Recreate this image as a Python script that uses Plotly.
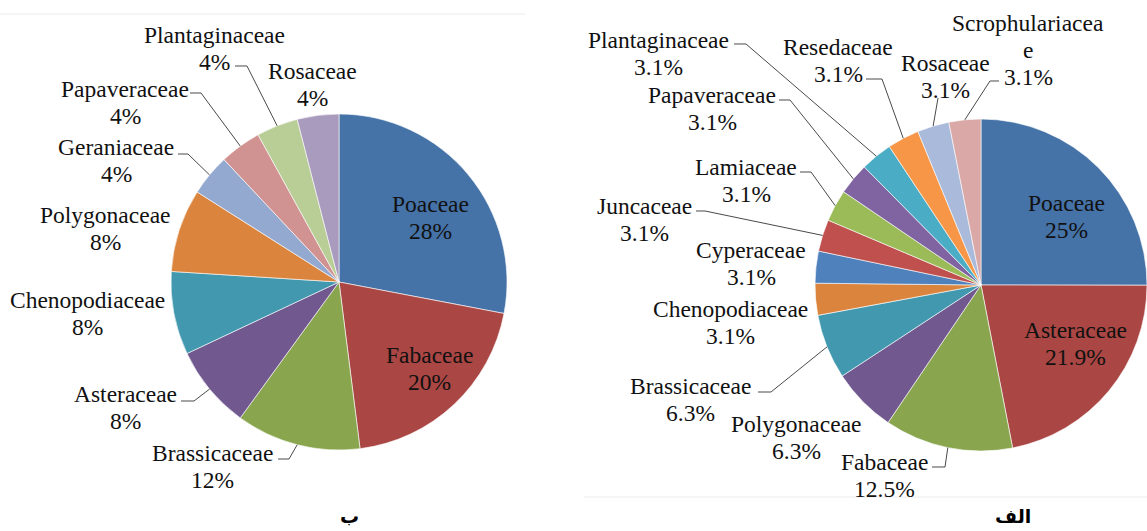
import math
import plotly.graph_objects as go

W, H = 1147, 531

# ---------------- data ----------------
# panel "ب" (left)
left_families = ["Poaceae", "Fabaceae", "Brassicaceae", "Asteraceae", "Chenopodiaceae",
                 "Polygonaceae", "Geraniaceae", "Papaveraceae", "Plantaginaceae", "Rosaceae"]
left_percent = [28, 20, 12, 8, 8, 8, 4, 4, 4, 4]

# panel "الف" (right)
right_families = ["Poaceae", "Asteraceae", "Fabaceae", "Polygonaceae", "Brassicaceae",
                  "Chenopodiaceae", "Cyperaceae", "Juncaceae", "Lamiaceae", "Papaveraceae",
                  "Plantaginaceae", "Resedaceae", "Rosaceae", "Scrophulariaceae"]
right_percent = [25, 21.9, 12.5, 6.3, 6.3, 3.1, 3.1, 3.1, 3.1, 3.1, 3.1, 3.1, 3.1, 3.1]

panel_titles = ["ب", "الف"]

# ---------------- styles ----------------
left_colors = ["#4572A7", "#AA4643", "#89A54E", "#71588F", "#4198AF",
               "#DB843D", "#93A9CF", "#D19392", "#B9CD96", "#A99BBD"]
right_colors = ["#4572A7", "#AA4643", "#89A54E", "#71588F", "#4198AF", "#DB843D",
                "#4F81BD", "#C0504D", "#9BBB59", "#8064A2", "#4BACC6", "#F79646",
                "#A9BADB", "#D9A8A7"]

FONT = "Liberation Serif, Times New Roman, serif"
FS = 23.5
LS = 27          # line spacing in px
TXT = "#111111"
LEAD = "#4a4a4a"

# pie geometry (px)
left_geo = dict(cx=339, cy=282, r=168)
right_geo = dict(cx=W - 166, cy=285, r=166)

# label placement (px): inside = offset from pie centre; pos = first line centre; dash = (x_start, x_end, y)
left_label_layout = {
    "Poaceae": dict(inside=(91, -78)),
    "Fabaceae": dict(inside=(90, 73)),
    "Brassicaceae": dict(pos=(212, 453), dash=(278, 289, 459)),
    "Asteraceae": dict(pos=(125, 394), dash=(181, 194, 401)),
    "Chenopodiaceae": dict(pos=(87, 300)),
    "Polygonaceae": dict(pos=(105, 215)),
    "Geraniaceae": dict(pos=(116, 147), dash=(178, 188, 154)),
    "Papaveraceae": dict(pos=(125, 89), dash=(190, 201, 93)),
    "Plantaginaceae": dict(pos=(214, 35), dash=(235, 247, 66)),
    "Rosaceae": dict(pos=(312, 71)),
}
right_label_layout = {
    "Poaceae": dict(inside=(85, -82)),
    "Asteraceae": dict(inside=(94, 45)),
    "Fabaceae": dict(pos=(884, 462), dash=(932, 945, 467)),
    "Polygonaceae": dict(pos=(796, 424)),
    "Brassicaceae": dict(pos=(690, 386), dash=(758, 771, 392)),
    "Chenopodiaceae": dict(pos=(730, 309)),
    "Cyperaceae": dict(pos=(751, 250)),
    "Juncaceae": dict(pos=(644, 206), dash=(696, 705, 211)),
    "Lamiaceae": dict(pos=(746, 167), dash=(800, 811, 172)),
    "Papaveraceae": dict(pos=(712, 95), dash=(779, 790, 100)),
    "Plantaginaceae": dict(pos=(658, 40), dash=(734, 746, 44)),
    "Resedaceae": dict(pos=(838, 47), dash=(866, 882, 79)),
    "Rosaceae": dict(pos=(945, 63), dash=(938, 938, 98)),
    "Scrophulariaceae": dict(pos=(1028, 23), lines=["Scrophulariacea", "e"], dash=(999, 990, 81)),
}


def px(x, y):
    return x / W, 1 - y / H


def domain(geo):
    x0, y0 = px(geo["cx"] - geo["r"], geo["cy"] + geo["r"])
    x1, y1 = px(geo["cx"] + geo["r"], geo["cy"] - geo["r"])
    return dict(x=[max(0, x0), min(1, x1)], y=[y0, y1])


fig = go.Figure()
annotations = []
shapes = []


def add_panel(families, values, colors, geo, layout_spec):
    fig.add_trace(go.Pie(
        labels=families, values=values, sort=False, direction="clockwise", rotation=0,
        marker=dict(colors=colors, line=dict(color="rgba(255,255,255,0.6)", width=1)),
        textinfo="none", hoverinfo="label+percent", showlegend=False,
        domain=domain(geo),
    ))
    total = sum(values)
    cum = 0.0
    for fam, v in zip(families, values):
        mid = (cum + v / 2) / total
        cum += v
        theta = 2 * math.pi * mid
        ex = geo["cx"] + geo["r"] * math.sin(theta)
        ey = geo["cy"] - geo["r"] * math.cos(theta)
        spec = layout_spec[fam]
        if "inside" in spec:
            lx = geo["cx"] + spec["inside"][0]
            ly = geo["cy"] + spec["inside"][1]
        else:
            lx, ly = spec["pos"]
        lines = spec.get("lines", [fam]) + [f"{v:g}%"]
        for k, t in enumerate(lines):
            ax, ay = px(lx, ly + k * LS)
            annotations.append(dict(
                x=ax, y=ay, xref="paper", yref="paper", text=t, showarrow=False,
                xanchor="center", yanchor="middle",
                font=dict(family=FONT, size=FS, color=TXT)))
        if "dash" in spec:
            xs, xe, yd = spec["dash"]
            p = [px(xs, yd), px(xe, yd), px(ex, ey)]
            path = "M {:.5f},{:.5f} L {:.5f},{:.5f} L {:.5f},{:.5f}".format(
                p[0][0], p[0][1], p[1][0], p[1][1], p[2][0], p[2][1])
            shapes.append(dict(type="path", path=path, xref="paper", yref="paper",
                               line=dict(color=LEAD, width=1)))


add_panel(left_families, left_percent, left_colors, left_geo, left_label_layout)
add_panel(right_families, right_percent, right_colors, right_geo, right_label_layout)

# panel captions
for t, (x, y) in zip(panel_titles, [(349, 516), (1013, 516)]):
    ax, ay = px(x, y)
    annotations.append(dict(x=ax, y=ay, xref="paper", yref="paper", text=t,
                            showarrow=False, xanchor="center", yanchor="middle",
                            font=dict(family="Noto Sans, DejaVu Sans", size=19, weight=700,
                                      color="#000000")))

# faint frame lines of the original images
for (x0, y0, x1, y1) in [(0, 14, 525, 14), (584, 497, W, 497)]:
    a = px(x0, y0)
    b = px(x1, y1)
    shapes.append(dict(type="line", xref="paper", yref="paper", x0=a[0], y0=a[1], x1=b[0], y1=b[1],
                       line=dict(color="#ececec", width=1)))

fig.update_layout(
    width=W, height=H,
    margin=dict(l=0, r=0, t=0, b=0),
    paper_bgcolor="white", plot_bgcolor="white",
    annotations=annotations, shapes=shapes,
)

fig.write_html("out.html", config={"displayModeBar": False},
               post_script="document.body.style.margin='0';document.body.style.overflow='hidden';")
